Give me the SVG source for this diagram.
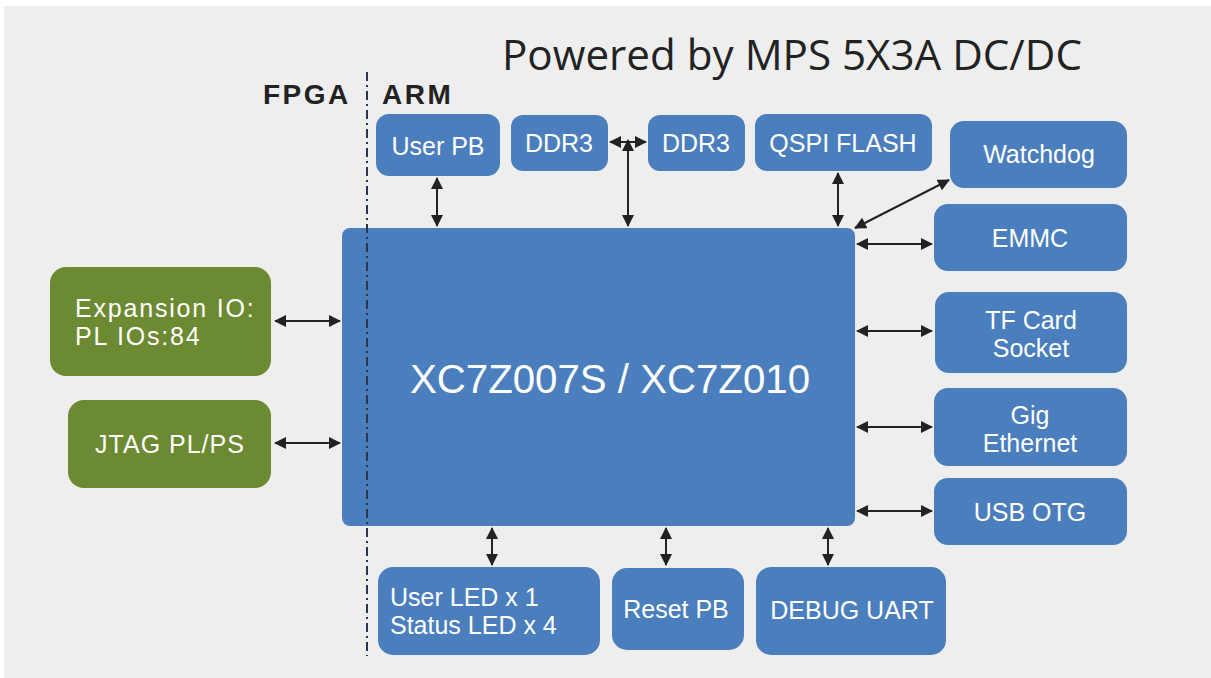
<svg xmlns="http://www.w3.org/2000/svg" width="1211" height="678" viewBox="0 0 1211 678">
<defs>
<marker id="ah" viewBox="0 0 12 12" refX="11" refY="6" markerWidth="12" markerHeight="12" markerUnits="userSpaceOnUse" orient="auto-start-reverse">
<path d="M0,0 L12,6 L0,12 z" fill="#222"/>
</marker>
<style>
.b{fill:#4a7ebd}
.g{fill:#6c8a31}
.t{font-family:"Liberation Sans",Arial,sans-serif;font-size:25px;fill:#fff;text-anchor:middle}
.s{font-family:"Liberation Sans",Arial,sans-serif;font-size:25px;fill:#fff;text-anchor:start}
.w{letter-spacing:1.8px}
.h{font-family:"Liberation Sans",Arial,sans-serif;font-size:28px;font-weight:bold;fill:#222;letter-spacing:2.5px}
.c{stroke:#222;stroke-width:2;fill:none;marker-start:url(#ah);marker-end:url(#ah)}
</style>
</defs>
<rect x="0" y="0" width="1211" height="678" fill="#ffffff"/>
<rect x="4" y="6" width="1207" height="672" fill="#eeeeee"/>
<text x="792" y="70" font-family="'Open Sans',sans-serif" font-size="42" fill="#222" text-anchor="middle" textLength="580" lengthAdjust="spacingAndGlyphs">Powered by MPS 5X3A DC/DC</text>
<text class="h" x="263" y="104">FPGA</text>
<text class="h" x="382" y="104">ARM</text>

<g id="main"><rect class="b" x="342" y="228" width="513" height="298" rx="8"/><text x="610" y="393" style="font-family:'Liberation Sans',Arial,sans-serif;font-size:40px;fill:#fff;text-anchor:middle" textLength="400" lengthAdjust="spacingAndGlyphs">XC7Z007S / XC7Z010</text></g>
<g id="userpb"><rect class="b" x="376" y="114" width="124" height="62" rx="13"/><text class="t" x="438" y="155">User PB</text></g>
<g id="ddr3a"><rect class="b" x="511" y="115" width="97" height="56" rx="12"/><text class="t" x="559" y="152">DDR3</text></g>
<g id="ddr3b"><rect class="b" x="648" y="115" width="97" height="56" rx="12"/><text class="t" x="696" y="152">DDR3</text></g>
<g id="qspi"><rect class="b" x="755" y="114" width="177" height="57" rx="12"/><text class="t" x="843" y="152">QSPI FLASH</text></g>
<g id="watchdog"><rect class="b" x="950" y="121" width="177" height="67" rx="14"/><text class="t" x="1039" y="163">Watchdog</text></g>
<g id="emmc"><rect class="b" x="934" y="204" width="193" height="67" rx="14"/><text class="t" x="1030" y="247">EMMC</text></g>
<g id="tf"><rect class="b" x="935" y="292" width="192" height="81" rx="14"/><text class="t" x="1031" y="329">TF Card</text><text class="t" x="1031" y="357">Socket</text></g>
<g id="gig"><rect class="b" x="934" y="388" width="193" height="78" rx="14"/><text class="t" x="1030" y="424">Gig</text><text class="t" x="1030" y="452">Ethernet</text></g>
<g id="usb"><rect class="b" x="934" y="478" width="193" height="67" rx="14"/><text class="t" x="1030" y="521">USB OTG</text></g>
<g id="expio"><rect class="g" x="50" y="267" width="221" height="109" rx="16"/><text class="s w" x="75" y="317">Expansion IO:</text><text class="s w" x="75" y="345">PL IOs:84</text></g>
<g id="jtag"><rect class="g" x="68" y="400" width="203" height="88" rx="16"/><text class="t" x="170" y="453" style="letter-spacing:1px">JTAG PL/PS</text></g>
<g id="led"><rect class="b" x="378" y="567" width="222" height="88" rx="15"/><text class="s" x="390" y="606">User LED x 1</text><text class="s" x="390" y="634">Status LED x 4</text></g>
<g id="reset"><rect class="b" x="612" y="568" width="132" height="82" rx="15"/><text class="t" x="676" y="618">Reset PB</text></g>
<g id="uart"><rect class="b" x="756" y="567" width="190" height="88" rx="15"/><text class="t" x="852" y="619">DEBUG UART</text></g>

<line x1="367" y1="72" x2="367" y2="656" stroke="#2a3550" stroke-width="2" stroke-dasharray="9,4,2,4"/>

<g id="connectors">
<line class="c" x1="275" y1="321" x2="340" y2="321"/>
<line class="c" x1="275" y1="443" x2="340" y2="443"/>
<line class="c" x1="437" y1="178" x2="437" y2="226"/>
<line class="c" x1="610" y1="142" x2="646" y2="142"/>
<line class="c" x1="628" y1="140" x2="628" y2="226"/>
<line class="c" x1="838" y1="173" x2="838" y2="226"/>
<line class="c" x1="855" y1="228" x2="949" y2="180"/>
<line class="c" x1="857" y1="244" x2="932" y2="244"/>
<line class="c" x1="857" y1="331" x2="932" y2="331"/>
<line class="c" x1="857" y1="427" x2="932" y2="427"/>
<line class="c" x1="857" y1="511" x2="932" y2="511"/>
<line class="c" x1="492" y1="528" x2="492" y2="565"/>
<line class="c" x1="666" y1="528" x2="666" y2="565"/>
<line class="c" x1="828" y1="528" x2="828" y2="565"/>
</g>
</svg>
